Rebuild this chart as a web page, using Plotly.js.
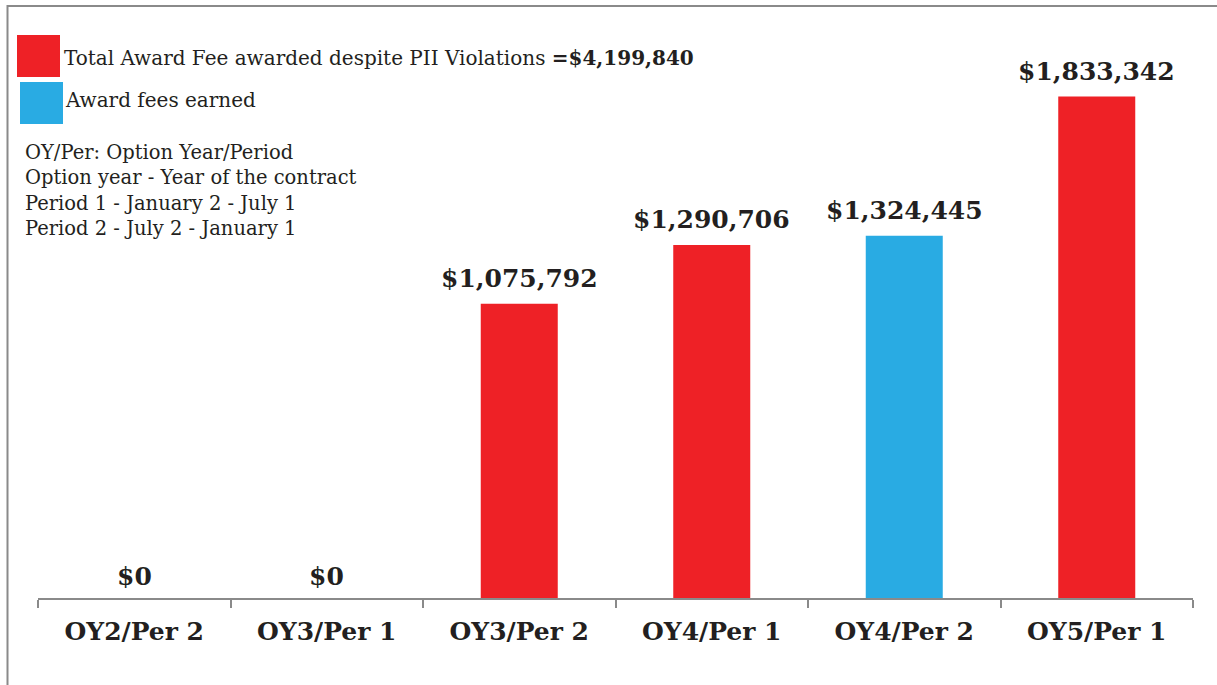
<!DOCTYPE html>
<html>
<head>
<meta charset="utf-8">
<script src="https://cdn.plot.ly/plotly-3.0.1.min.js"></script>
<style>html,body{margin:0;padding:0;background:#fff;}#chart{width:1217px;height:685px;}</style>
</head>
<body>
<div id="chart"></div>
<script>
// ---- data ----
const categories = ['OY2/Per 2', 'OY3/Per 1', 'OY3/Per 2', 'OY4/Per 1', 'OY4/Per 2', 'OY5/Per 1'];
const despiteValues = [0, 0, 1075792, 1290706, null, 1833342];
const earnedValues = [null, null, null, null, 1324445, null];
const valueLabels = ['$0', '$0', '$1,075,792', '$1,290,706', '$1,324,445', '$1,833,342'];
const seriesNames = ['Total Award Fee awarded despite PII Violations ', 'Award fees earned'];
const totalLabel = '=$4,199,840';
const notes = ['OY/Per: Option Year/Period', 'Option year - Year of the contract', 'Period 1 - January 2 - July 1', 'Period 2 - July 2 - January 1'];

// ---- style ----
const RED = '#EE2126';
const BLUE = '#29ABE3';
const FONT = 'DejaVu Serif, serif';
const W = 1217, H = 685;
const M = {l: 38, r: 24, t: 40, b: 87};
const pw = W - M.l - M.r, ph = H - M.t - M.b;
const px = x => (x - M.l) / pw;
const py = y => (H - M.b - y) / ph;

const traces = [
  {type: 'bar', x: categories, y: despiteValues, name: seriesNames[0], marker: {color: RED}, hoverinfo: 'x+y'},
  {type: 'bar', x: categories, y: earnedValues, name: seriesNames[1], marker: {color: BLUE}, hoverinfo: 'x+y'}
];

const valueAnnotations = categories.map((c, i) => {
  const v = despiteValues[i] !== null ? despiteValues[i] : earnedValues[i];
  return {x: c, y: v, xref: 'x', yref: 'y', text: '<b>' + valueLabels[i] + '</b>',
    showarrow: false, yanchor: 'bottom', yshift: v === 0 ? 5 : 9,
    font: {family: FONT, size: 25, color: '#231F20'}};
});

const layout = {
  width: W, height: H,
  margin: M,
  paper_bgcolor: '#ffffff', plot_bgcolor: '#ffffff',
  showlegend: false,
  barmode: 'overlay',
  bargap: 0.6,
  font: {family: FONT, color: '#231F20'},
  xaxis: {
    type: 'category', range: [-0.5, 5.5],
    showline: true, linecolor: '#8A8A8A', linewidth: 2,
    ticks: 'outside', tickson: 'boundaries', ticklen: 8, tickwidth: 2, tickcolor: '#8A8A8A',
    tickfont: {family: FONT, size: 25, color: '#231F20', weight: 'bold'},
    ticklabelstandoff: 10,
    showgrid: false, zeroline: false, fixedrange: true
  },
  yaxis: {
    range: [0, 2040000], visible: false, showgrid: false, zeroline: false, fixedrange: true
  },
  shapes: [
    {type: 'path', xref: 'paper', yref: 'paper',
      path: `M ${px(7.5)} ${py(H + 20)} L ${px(7.5)} ${py(6)} L ${px(W + 20)} ${py(6)}`,
      line: {color: '#8A8A8A', width: 2}},
    {type: 'rect', xref: 'paper', yref: 'paper', x0: px(17), x1: px(60), y0: py(77), y1: py(35),
      fillcolor: RED, line: {width: 0}},
    {type: 'rect', xref: 'paper', yref: 'paper', x0: px(20), x1: px(63), y0: py(124), y1: py(82),
      fillcolor: BLUE, line: {width: 0}}
  ],
  annotations: valueAnnotations.concat([
    {xref: 'paper', yref: 'paper', x: px(62), y: py(58), xanchor: 'left', yanchor: 'middle',
      text: seriesNames[0] + '<b>' + totalLabel + '</b>', showarrow: false,
      font: {family: FONT, size: 20, color: '#231F20'}},
    {xref: 'paper', yref: 'paper', x: px(63), y: py(100), xanchor: 'left', yanchor: 'middle',
      text: seriesNames[1], showarrow: false,
      font: {family: FONT, size: 20, color: '#231F20'}},
    {xref: 'paper', yref: 'paper', x: px(23), y: py(139), xanchor: 'left', yanchor: 'top', align: 'left',
      text: notes.join('<br>'), showarrow: false,
      font: {family: FONT, size: 19.5, color: '#231F20'}}
  ])
};

Plotly.newPlot('chart', traces, layout, {displayModeBar: false, staticPlot: true});
</script>
</body>
</html>
